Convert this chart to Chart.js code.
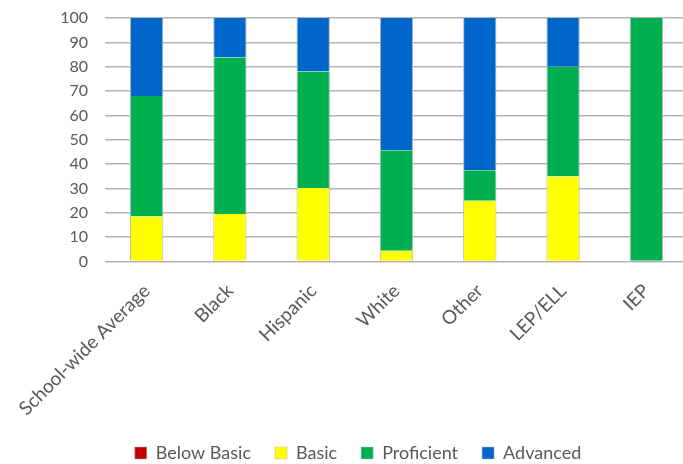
<!DOCTYPE html>
<html>
<head>
<meta charset="utf-8">
<script src="https://cdn.jsdelivr.net/npm/chart.js@4"></script>
<style>
  html, body { margin: 0; padding: 0; background: #fff; overflow: hidden; }
  #wrap { width: 688px; height: 464px; position: relative; }
</style>
</head>
<body>
<div id="wrap"><canvas id="chart"></canvas></div>
<script>
// Student groups along the x axis
const categories = ["School-wide Average", "Black", "Hispanic", "White", "Other", "LEP/ELL", "IEP"];

// Percent of students at each performance level, per group
const belowBasic = [0, 0, 0, 0, 0, 0, 0];
const basic      = [18.5, 19.6, 30.2, 4.5, 25.0, 35.0, 0];
const proficient = [49.5, 64.2, 47.8, 41.2, 12.5, 45.0, 100];
const advanced   = [32.0, 16.2, 22.0, 54.3, 62.5, 20.0, 0];

// Value axis ticks
const yTicks = [0, 10, 20, 30, 40, 50, 60, 70, 80, 90, 100];

const textColor = "#595959";
const fontFamily = "Lato, 'Liberation Sans', sans-serif";
const side = { left: 1, right: 1, top: 0, bottom: 0 };

function series(label, data, color) {
  return {
    label, data,
    backgroundColor: color,
    borderColor: "#b8b8b8",
    borderWidth: side,
    borderSkipped: false,
    barPercentage: 0.4,
    categoryPercentage: 1.0
  };
}

new Chart(document.getElementById("chart"), {
  type: "bar",
  data: {
    labels: categories,
    datasets: [
      series("Below Basic", belowBasic, "#C00000"),
      series("Basic", basic, "#FFFF00"),
      series("Proficient", proficient, "#00B050"),
      series("Advanced", advanced, "#0066CC")
    ]
  },
  options: {
    responsive: true,
    maintainAspectRatio: false,
    animation: false,
    layout: { autoPadding: false, padding: { left: 28, right: 0, top: 18, bottom: -8 } },
    scales: {
      x: {
        stacked: true,
        afterFit(scale) {
          scale.height -= 18;
          scale.paddingLeft = 0;
          scale.paddingRight = 0;
        },
        grid: { display: false, drawTicks: false },
        border: { display: false },
        ticks: {
          color: textColor,
          font: { family: fontFamily, size: 19 },
          minRotation: 45,
          maxRotation: 45,
          padding: 18
        }
      },
      y: {
        stacked: true,
        min: 0,
        max: 100,
        afterFit(scale) { scale.width = 77; scale.paddingTop = 0; },
        afterBuildTicks(scale) { scale.ticks = yTicks.map(v => ({ value: v })); },
        grid: { color: "#b4b4b4", lineWidth: 1.6, drawTicks: false },
        border: { display: false },
        ticks: {
          color: textColor,
          font: { family: fontFamily, size: 16 },
          padding: 17
        }
      }
    },
    plugins: {
      legend: {
        position: "bottom",
        labels: {
          color: textColor,
          font: { family: fontFamily, size: 18 },
          boxWidth: 12,
          boxHeight: 12,
          padding: 24,
          useBorderRadius: false
        }
      },
      tooltip: { enabled: false }
    }
  }
});
</script>
</body>
</html>
